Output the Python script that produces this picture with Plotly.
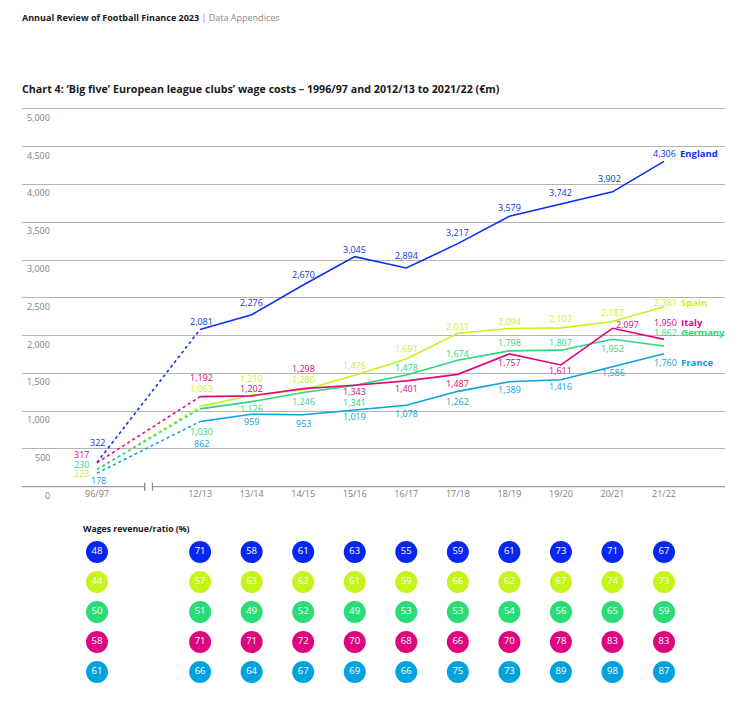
import plotly.graph_objects as go

# ---------------- data ----------------
SEASONS = ["96/97", "12/13", "13/14", "14/15", "15/16", "16/17",
           "17/18", "18/19", "19/20", "20/21", "21/22"]
SERIES = ["England", "Spain", "Germany", "Italy", "France"]

ENGLAND = [322, 2081, 2276, 2670, 3045, 2894, 3217, 3579, 3742, 3902, 4306]
SPAIN = [223, 1063, 1210, 1280, 1476, 1691, 2031, 2094, 2102, 2187, 2381]
GERMANY = [230, 1030, 1126, 1246, 1341, 1478, 1674, 1798, 1807, 1952, 1862]
ITALY = [317, 1192, 1202, 1298, 1343, 1401, 1487, 1757, 1611, 2097, 1950]
FRANCE = [178, 862, 959, 953, 1019, 1078, 1262, 1389, 1416, 1586, 1760]

RATIO_ENGLAND = [48, 71, 58, 61, 63, 55, 59, 61, 73, 71, 67]
RATIO_SPAIN = [44, 57, 63, 62, 61, 59, 66, 62, 67, 74, 73]
RATIO_GERMANY = [50, 51, 49, 52, 49, 53, 53, 54, 56, 65, 59]
RATIO_ITALY = [58, 71, 71, 72, 70, 68, 66, 70, 78, 83, 83]
RATIO_FRANCE = [61, 66, 64, 67, 69, 66, 75, 73, 89, 98, 87]

Y_TICKS = [0, 500, 1000, 1500, 2000, 2500, 3000, 3500, 4000, 4500, 5000]

VALUES = {"England": ENGLAND, "Spain": SPAIN, "Germany": GERMANY,
          "Italy": ITALY, "France": FRANCE}
RATIOS = {"England": RATIO_ENGLAND, "Spain": RATIO_SPAIN, "Germany": RATIO_GERMANY,
          "Italy": RATIO_ITALY, "France": RATIO_FRANCE}

# ---------------- styles ----------------
COLORS = {"England": "#0d2ff0", "Spain": "#c8f21e", "Germany": "#2bd87a",
          "Italy": "#e0087f", "France": "#0aa2de"}
CIRCLE_COLORS = {"England": "#0726f0", "Spain": "#c6f41a", "Germany": "#29dc76",
                 "Italy": "#de0680", "France": "#04a2dd"}
# label offsets in pixels (dx, dy) relative to each point
LABEL_OFFSETS = {
    "England": [(0, 20), (1, 8), (0, 12), (0, 10), (0, 7), (0, 13), (0, 11), (0, 9), (0, 11), (-3, 13), (0, 8)],
    "Spain":   [(-16, -4), (1, 18), (0, 17), (0, 10), (0, 10), (0, 10), (0, 7), (0, 7), (0, 9), (0, 9), (1, 4)],
    "Germany": [(-16, 5), (1, -23), (0, -7), (0, -9), (0, -17), (0, 8), (0, 7), (0, 8), (0, 8), (0, -9), (1, 14)],
    "Italy":   [(-16, 8), (1, 19), (0, 7), (0, 20), (0, -6), (0, -8), (0, -9), (0, -9), (0, -6), (15, 4), (1, 17)],
    "France":  [(1, -7), (1, -22), (0, -7), (0, -9), (0, -7), (0, -8), (0, -10), (0, -8), (0, -7), (1, -6), (1, -9)],
}
FONT = "Open Sans"
GREY = "#808080"
W, H = 738, 703

# slot positions on x: a gap slot is left between 96/97 and 12/13 for the axis break
POS = [0] + list(range(2, len(SEASONS) + 1))
X_RANGE = [-1.455, 12.183]
BREAK_AT = (POS[0] + POS[1]) / 2
BREAK_HALF = 0.075

# y scale: value 0 sits at 486.7px, 5000 at 108.9px; a little headroom keeps the top gridline
Y_ZERO_PX, Y_5000_PX = 486.7, 108.9
Y_TOP = 5100
PX_PER_UNIT = (Y_ZERO_PX - Y_5000_PX) / 5000
Y_TOP_PX = Y_ZERO_PX - Y_TOP * PX_PER_UNIT


def fmt(v):
    return f"{v:,}"


def py(px):
    return 1 - px / H


def xdom(x):
    return (x - X_RANGE[0]) / (X_RANGE[1] - X_RANGE[0])


fig = go.Figure()

# lines
for s in SERIES:
    vals = VALUES[s]
    fig.add_trace(go.Scatter(x=POS[:2], y=vals[:2], mode="lines",
                             line=dict(color=COLORS[s], width=1.6, dash="dot"),
                             xaxis="x", yaxis="y", showlegend=False, hoverinfo="skip"))
    fig.add_trace(go.Scatter(x=POS[1:], y=vals[1:], mode="lines",
                             line=dict(color=COLORS[s], width=1.6),
                             xaxis="x", yaxis="y", showlegend=False, hoverinfo="skip"))

# ratio circles
for row, s in enumerate(SERIES):
    fig.add_trace(go.Scatter(x=POS, y=[row] * len(POS), mode="markers+text",
                             marker=dict(size=22, color=CIRCLE_COLORS[s], line=dict(width=0)),
                             text=[str(v) for v in RATIOS[s]], textposition="middle center",
                             textfont=dict(family=FONT, size=9.5, color="white"),
                             xaxis="x", yaxis="y2", showlegend=False, hoverinfo="skip",
                             cliponaxis=False))

annotations = []
# data labels
for s in SERIES:
    vals = VALUES[s]
    for i, (p, v) in enumerate(zip(POS, vals)):
        dx, dy = LABEL_OFFSETS[s][i]
        annotations.append(dict(x=p, y=v, xref="x", yref="y", text=fmt(v), showarrow=False,
                                xanchor="center", yanchor="middle", xshift=dx, yshift=dy,
                                font=dict(family=FONT, size=9, color=COLORS[s])))
    dx, dy = LABEL_OFFSETS[s][-1]
    annotations.append(dict(x=POS[-1], y=vals[-1], xref="x", yref="y", text=f"<b>{s}</b>",
                            showarrow=False, xanchor="left", yanchor="middle",
                            xshift=dx + 14, yshift=dy,
                            font=dict(family=FONT, size=9.5, color=COLORS[s])))

# y tick labels (placed just below each gridline)
for t in Y_TICKS:
    annotations.append(dict(x=52 / W, y=t, xref="paper", yref="y", text=fmt(t), showarrow=False,
                            xanchor="right", yanchor="top", yshift=0,
                            font=dict(family=FONT, size=9, color=GREY)))

# header, title, sub heading
annotations.append(dict(x=20 / W, y=py(17), xref="paper", yref="paper", showarrow=False,
                        xanchor="left", yanchor="middle",
                        text="<b>Annual Review of Football Finance 2023</b> "
                             "<span style='color:#8a8a8a'>| Data Appendices</span>",
                        font=dict(family=FONT, size=9, color="#1a1a1a")))
annotations.append(dict(x=20 / W, y=py(89), xref="paper", yref="paper", showarrow=False,
                        xanchor="left", yanchor="middle",
                        text="<b>Chart 4: ‘Big five’ European league clubs’ wage costs – "
                             "1996/97 and 2012/13 to 2021/22 (€m)</b>",
                        font=dict(family=FONT, size=10.7, color="#1a1a1a")))
annotations.append(dict(x=81 / W, y=py(529), xref="paper", yref="paper", showarrow=False,
                        xanchor="left", yanchor="middle",
                        text="<b>Wages revenue/ratio (%)</b>",
                        font=dict(family=FONT, size=8.7, color="#1a1a1a")))

# zero axis line with a break (paper y-ref -> not clipped at the plot edge)
ZERO_Y = py(Y_ZERO_PX)
shapes = [
    dict(type="line", xref="x domain", yref="paper", x0=0, x1=xdom(BREAK_AT - BREAK_HALF),
         y0=ZERO_Y, y1=ZERO_Y, line=dict(color="#9a9a9a", width=1.3), layer="above"),
    dict(type="line", xref="x domain", yref="paper", x0=xdom(BREAK_AT + BREAK_HALF), x1=1,
         y0=ZERO_Y, y1=ZERO_Y, line=dict(color="#9a9a9a", width=1.3), layer="above"),
]
for bx in (BREAK_AT - BREAK_HALF, BREAK_AT + BREAK_HALF):
    shapes.append(dict(type="line", xref="x domain", yref="paper", x0=xdom(bx), x1=xdom(bx),
                       y0=ZERO_Y - 4 / H, y1=ZERO_Y + 4 / H,
                       line=dict(color="#8a8a8a", width=1.3), layer="above"))

fig.update_layout(
    width=W, height=H, margin=dict(l=0, r=0, t=0, b=0),
    paper_bgcolor="white", plot_bgcolor="white",
    font=dict(family=FONT),
    xaxis=dict(domain=[22 / W, 725 / W], range=X_RANGE, anchor="y",
               tickmode="array", tickvals=POS, ticktext=SEASONS,
               tickfont=dict(family=FONT, size=9, color=GREY),
               showgrid=False, zeroline=False, showline=False, ticks=""),
    yaxis=dict(domain=[py(Y_ZERO_PX), py(Y_TOP_PX)], range=[0, Y_TOP], anchor="x",
               tickmode="array", tickvals=Y_TICKS[1:], showticklabels=False,
               showgrid=True, gridcolor="#b4b4b4", gridwidth=1.3,
               zeroline=False, showline=False, ticks=""),
    yaxis2=dict(domain=[py(687), py(537)], range=[len(SERIES) - 0.5, -0.5], anchor="x",
                showticklabels=False, showgrid=False, zeroline=False, showline=False),
    annotations=annotations,
    shapes=shapes,
)

fig.write_html("out.html")
